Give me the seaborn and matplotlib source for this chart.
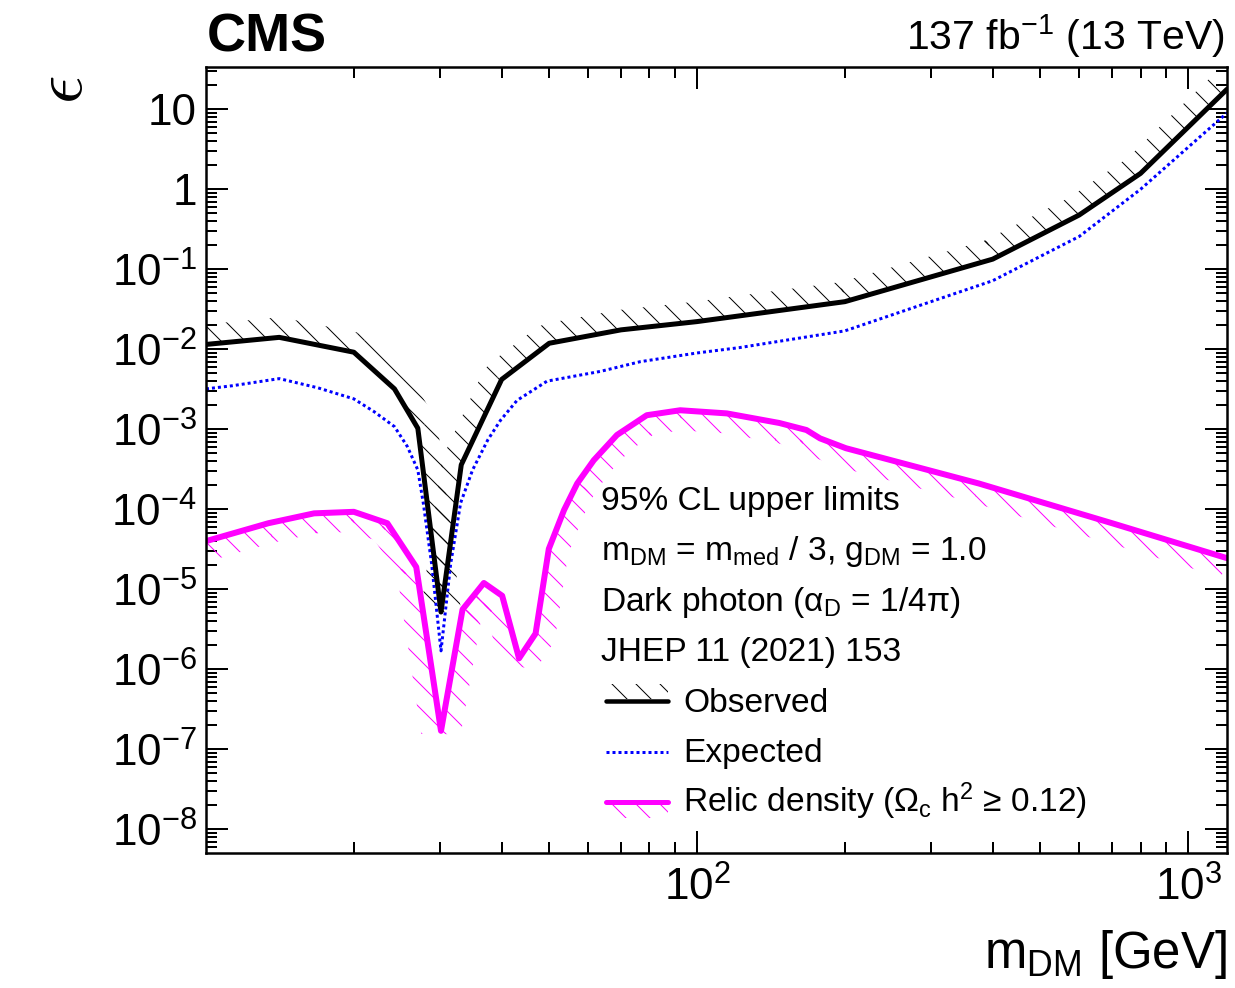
import numpy as np
import pandas as pd
import matplotlib
matplotlib.use("Agg")
import matplotlib.pyplot as plt
import seaborn as sns
from matplotlib.ticker import FixedLocator, FuncFormatter, NullFormatter
from matplotlib.lines import Line2D
from matplotlib.patches import Rectangle

# ---------------- data ----------------
m_obs = [10, 14.1, 20, 24.2, 27, 30.1, 33.1, 40, 50, 70, 100, 200, 400, 600, 800, 1200]
obs = [0.0115, 0.0141, 0.0092, 0.0032, 0.00103, 5.2e-6, 3.6e-4, 4.2e-3, 0.0119,
       0.0175, 0.0222, 0.0394, 0.134, 0.477, 1.58, 17.8]

m_exp = [10, 11.3, 14.1, 16.9, 20, 22, 24.2, 25.7, 27, 27.7, 28.8, 30.1, 31.5, 33,
         34.9, 37.5, 39.8, 43, 49.5, 63.6, 76.6, 100, 122, 200, 400, 600, 800, 1200]
exp = [3.2e-3, 3.5e-3, 4.3e-3, 3.3e-3, 2.4e-3, 1.66e-3, 1.08e-3, 6.1e-4, 3.1e-4,
       1.2e-4, 2.1e-5, 1.7e-6, 2.1e-5, 1.2e-4, 3.1e-4, 7.4e-4, 1.3e-3, 2.3e-3,
       4.0e-3, 5.3e-3, 7.0e-3, 9.0e-3, 1.05e-2, 1.7e-2, 7.2e-2, 0.257, 1.0, 9.0]

m_relic = [10, 13.4, 16.6, 20, 23.4, 26.8, 30.1, 33.3, 36.8, 40.1, 43.4, 46.9, 49.9,
           53.6, 57, 61.6, 68.7, 79, 92.4, 115, 147, 167, 178, 201, 375, 700, 1200]
relic = [4.0e-5, 6.7e-5, 8.9e-5, 9.3e-5, 6.7e-5, 1.9e-5, 1.7e-7, 5.6e-6, 1.2e-5,
         8.3e-6, 1.37e-6, 2.8e-6, 3.2e-5, 9.8e-5, 2.1e-4, 4.1e-4, 8.5e-4, 1.5e-3,
         1.73e-3, 1.58e-3, 1.2e-3, 9.8e-4, 7.7e-4, 5.8e-4, 2.1e-4, 6.7e-5, 2.45e-5]

x_major = [100, 1000]
y_major = [1e-8, 1e-7, 1e-6, 1e-5, 1e-4, 1e-3, 1e-2, 1e-1, 1, 10]

legend_header = ["95% CL upper limits",
                 r"m$_{\mathregular{DM}}$ = m$_{\mathregular{med}}$ / 3, g$_{\mathregular{DM}}$ = 1.0",
                 r"Dark photon (α$_{\mathregular{D}}$ = 1/4π)",
                 "JHEP 11 (2021) 153"]
legend_entries = ["Observed", "Expected",
                  r"Relic density (Ω$_{\mathregular{c}}$ h$^{\mathregular{2}}$ ≥ 0.12)"]

# ---------------- style ----------------
sns.set_theme(style="ticks")
plt.rcParams["font.family"] = ["Liberation Sans", "DejaVu Sans"]
plt.rcParams["mathtext.fontset"] = "custom"
plt.rcParams["mathtext.rm"] = "Liberation Sans"
plt.rcParams["mathtext.it"] = "Liberation Sans:italic"
plt.rcParams["mathtext.bf"] = "Liberation Sans:bold"
plt.rcParams["hatch.linewidth"] = 1.0
for k in ["text.color", "axes.labelcolor", "xtick.color", "ytick.color", "axes.edgecolor"]:
    plt.rcParams[k] = "black"

W, H, DPI = 1235, 988, 72
fig = plt.figure(figsize=(W / DPI, H / DPI), dpi=DPI)
fig.patch.set_facecolor("white")
L, R, T, B = 206, 1227, 67, 853
ax = fig.add_axes([L / W, 1 - B / H, (R - L) / W, (B - T) / H])
ax.set_facecolor("white")
ax.set_xscale("log")
ax.set_yscale("log")

df_obs = pd.DataFrame({"m": m_obs, "v": obs})
df_exp = pd.DataFrame({"m": m_exp, "v": exp})
df_rel = pd.DataFrame({"m": m_relic, "v": relic})

sns.lineplot(data=df_rel, x="m", y="v", ax=ax, color="#ff00ff", lw=6, estimator=None, sort=False)
sns.lineplot(data=df_exp, x="m", y="v", ax=ax, color="#0000ff", lw=3, estimator=None, sort=False,
             dashes=False)
ax.lines[-1].set_dashes((1, 1))
sns.lineplot(data=df_obs, x="m", y="v", ax=ax, color="black", lw=5, estimator=None, sort=False)

ax.set_xlim(10, 1200)
ax.set_ylim(10 ** (-8 - (853 - 829.3) / 80), 10 ** (1 + (109.3 - 67) / 80))


def hatch_band(x, y, width_px, side, color):
    pts = ax.transData.transform(np.column_stack([x, y]))
    inv = ax.transData.inverted()
    offs = []
    for p0, p1 in zip(pts[:-1], pts[1:]):
        d = p1 - p0
        n = np.array([-d[1], d[0]]) / np.hypot(*d)
        off = side * width_px * n
        offs.append(off)
        quad = inv.transform(np.array([p0, p1, p1 + off, p0 + off]))
        ax.fill(quad[:, 0], quad[:, 1], facecolor="none", edgecolor=color, lw=0, hatch="\\")
    for i in range(1, len(pts) - 1):
        p = pts[i]
        tri = inv.transform(np.array([p, p + offs[i - 1], p + offs[i]]))
        ax.fill(tri[:, 0], tri[:, 1], facecolor="none", edgecolor=color, lw=0, hatch="\\")


hatch_band(m_obs, obs, 20, +1, "black")
hatch_band(m_relic, relic, 20, -1, "#ff00ff")

# ---------------- axes / ticks ----------------
ax.xaxis.set_major_locator(FixedLocator(x_major))
ax.xaxis.set_minor_locator(FixedLocator([k * 10 for k in range(2, 10)] + [k * 100 for k in range(2, 10)]))
ax.xaxis.set_major_formatter(FuncFormatter(lambda v, p: r"$\mathregular{10^{%d}}$" % round(np.log10(v))))
ax.xaxis.set_minor_formatter(NullFormatter())

ax.yaxis.set_major_locator(FixedLocator(y_major))
ax.yaxis.set_minor_locator(FixedLocator([k * 10.0 ** e for e in range(-9, 2) for k in range(2, 10)]))


def yfmt(v, p):
    e = round(np.log10(v))
    if e == 1:
        return "10"
    if e == 0:
        return "1"
    return r"$\mathregular{10^{%d}}$" % e


ax.yaxis.set_major_formatter(FuncFormatter(yfmt))
ax.yaxis.set_minor_formatter(NullFormatter())

ax.tick_params(which="both", direction="in", top=True, right=True, width=2, colors="black")
ax.tick_params(which="major", length=22)
ax.tick_params(which="minor", length=11)
ax.tick_params(axis="y", which="major", labelsize=44, pad=9)
ax.tick_params(axis="x", which="major", labelsize=44, pad=14)
for s in ax.spines.values():
    s.set_linewidth(2.5)
    s.set_color("black")
    s.set_visible(True)
ax.set_xlabel("")
ax.set_ylabel("")


def fx(px):
    return px / W


def fy(py):
    return 1 - py / H


# titles and axis labels
fig.text(fx(207), fy(52), "CMS", weight="bold", size=54, va="baseline", ha="left", color="black")
fig.text(fx(1225), fy(50), r"137 fb$^{\mathregular{-1}}$ (13 TeV)", size=41, va="baseline",
         ha="right", color="black")
fig.text(fx(1227), fy(968), r"m$_{\mathregular{DM}}$ [GeV]", size=51, va="baseline", ha="right",
         color="black")
fig.text(fx(64), fy(90), r"$\epsilon$", size=70, rotation=90, va="center", ha="center",
         color="black", math_fontfamily="cm")

# ---------------- legend ----------------
for i, t in enumerate(legend_header):
    fig.text(fx(601), fy(510 + 50.3 * i), t, size=33.5, va="baseline", ha="left", color="black")
for i, t in enumerate(legend_entries):
    fig.text(fx(683), fy(711.5 + 50.3 * i), t, size=33.5, va="baseline", ha="left", color="black")

x0, x1 = 606, 668
fig.add_artist(Rectangle((fx(x0), fy(699)), (x1 - x0) / W, 15 / H, transform=fig.transFigure,
                         facecolor="none", edgecolor="black", lw=0, hatch="\\"))
fig.add_artist(Line2D([fx(x0), fx(x1)], [fy(700.5), fy(700.5)], transform=fig.transFigure,
                      color="black", lw=4.5))
exp_line = Line2D([fx(x0), fx(x1)], [fy(751.5), fy(751.5)], transform=fig.transFigure,
                  color="#0000ff", lw=3)
exp_line.set_dashes((1, 1))
fig.add_artist(exp_line)
fig.add_artist(Rectangle((fx(x0), fy(818)), (x1 - x0) / W, 14 / H, transform=fig.transFigure,
                         facecolor="none", edgecolor="#ff00ff", lw=0, hatch="\\"))
fig.add_artist(Line2D([fx(x0), fx(x1)], [fy(801.5), fy(801.5)], transform=fig.transFigure,
                      color="#ff00ff", lw=5))

fig.savefig("out.png", dpi=DPI, facecolor="white")
